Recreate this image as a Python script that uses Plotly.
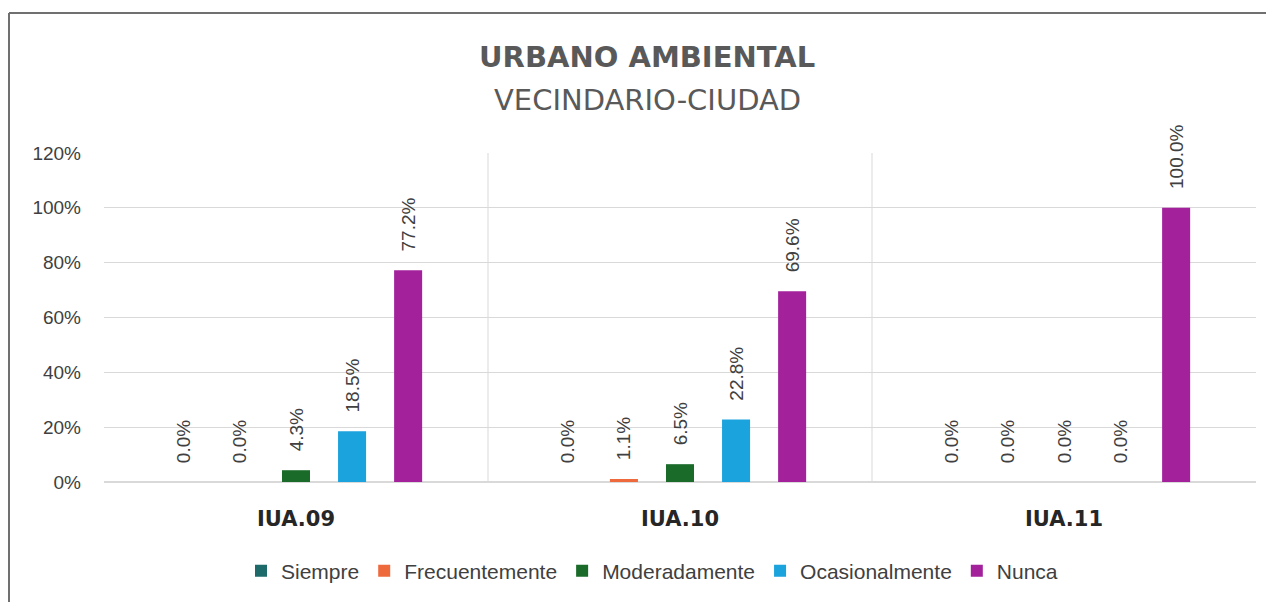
import plotly.graph_objects as go

categories = ["IUA.09", "IUA.10", "IUA.11"]
series_names = ["Siempre", "Frecuentemente", "Moderadamente", "Ocasionalmente", "Nunca"]
siempre = [0.0, 0.0, 0.0]
frecuentemente = [0.0, 1.1, 0.0]
moderadamente = [4.3, 6.5, 0.0]
ocasionalmente = [18.5, 22.8, 0.0]
nunca = [77.2, 69.6, 100.0]
y_ticks = [0, 20, 40, 60, 80, 100, 120]
y_tick_labels = ["0%", "20%", "40%", "60%", "80%", "100%", "120%"]
title_main = "URBANO AMBIENTAL"
title_sub = "VECINDARIO-CIUDAD"

series_values = [siempre, frecuentemente, moderadamente, ocasionalmente, nunca]
colors = ["#1E6A6A", "#EE6A3C", "#1A6B2A", "#1BA3DD", "#A3229C"]

OFF = 8  # page body margin
W, H = 1274, 602
pw, ph = 1152, 329
ml = 104 - OFF
mt = 153 - OFF
mr = W - ml - pw
mb = H - mt - ph

PAD = "\u00a0" * 3  # visual gap between bar top and rotated label

fig = go.Figure()
for name, vals, col in zip(series_names, series_values, colors):
    fig.add_trace(go.Bar(
        x=categories, y=vals, name=name,
        marker=dict(color=col, line=dict(width=0)),
        text=[f"{PAD}{v:.1f}%" for v in vals],
        textposition="outside", textangle=-90, constraintext="none",
        textfont=dict(family="Liberation Sans, Arial", size=19, color="#404040"),
        cliponaxis=False,
    ))

def px_x(p):
    return (p - OFF - ml) / pw

def px_y(p):
    return (mt + ph - (p - OFF)) / ph

shapes = []
for xv in [0.5, 1.5]:
    shapes.append(dict(type="line", xref="x", yref="y", x0=xv, x1=xv, y0=0, y1=120,
                       line=dict(color="#D9D9D9", width=1), layer="below"))
# outer border (left and top)
shapes.append(dict(type="line", xref="paper", yref="paper",
                   x0=px_x(9), x1=px_x(9), y0=px_y(13), y1=px_y(620),
                   line=dict(color="#707070", width=2)))
shapes.append(dict(type="line", xref="paper", yref="paper",
                   x0=px_x(9), x1=px_x(1290), y0=px_y(13), y1=px_y(13),
                   line=dict(color="#707070", width=2)))

annotations = [
    dict(text=f"<b>{title_main}</b>", xref="paper", yref="paper",
         x=px_x(647), y=px_y(57), xanchor="center", yanchor="middle", showarrow=False,
         font=dict(family="DejaVu Sans", size=29, color="#595959")),
    dict(text=title_sub, xref="paper", yref="paper",
         x=px_x(647), y=px_y(100), xanchor="center", yanchor="middle", showarrow=False,
         font=dict(family="DejaVu Sans", size=29, color="#595959")),
]

fig.update_layout(
    width=W, height=H,
    margin=dict(l=ml, r=mr, t=mt, b=mb, autoexpand=False),
    paper_bgcolor="white", plot_bgcolor="white",
    barmode="group", bargap=0.27, bargroupgap=0.5,
    showlegend=True,
    legend=dict(orientation="h", x=px_x(652), xanchor="center",
                y=px_y(571), yanchor="middle",
                font=dict(family="Liberation Sans, Arial", size=21, color="#404040"),
                itemsizing="constant", traceorder="normal", itemwidth=30),
    shapes=shapes, annotations=annotations,
    xaxis=dict(showgrid=False, showline=False, zeroline=False, ticks="",
               tickfont=dict(family="DejaVu Sans", size=21, color="#262626"),
               tickprefix="<b>", ticksuffix="</b>", ticklabelstandoff=22),
    yaxis=dict(range=[0, 120], tickvals=y_ticks, ticktext=y_tick_labels,
               showgrid=True, gridcolor="#D9D9D9", gridwidth=1,
               zeroline=True, zerolinecolor="#D9D9D9", showline=False, ticks="",
               tickfont=dict(family="Liberation Sans, Arial", size=19, color="#404040"),
               ticklabelstandoff=22),
)

fig.write_html("out.html")
